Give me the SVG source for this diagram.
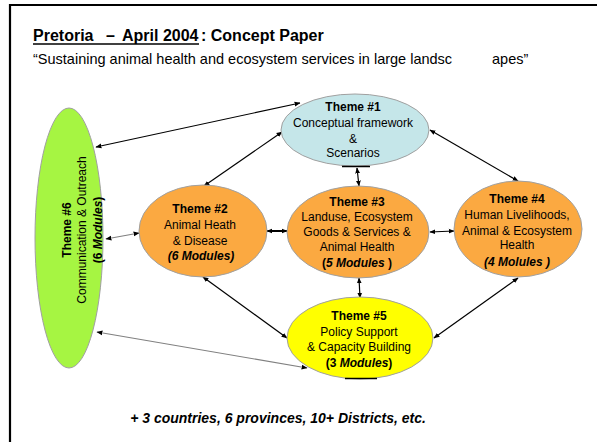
<svg xmlns="http://www.w3.org/2000/svg" width="597" height="442" viewBox="0 0 597 442">
<defs>
<style>
text{font-family:"Liberation Sans",Arial,sans-serif;fill:#000;}
.t{font-size:12px;text-anchor:middle;}
.b{font-weight:bold;}
.i{font-style:italic;font-weight:bold;}
.node{stroke:#a0a0a0;stroke-width:1;}
.c{fill:none;stroke:#000;stroke-width:1.2;marker-start:url(#a);marker-end:url(#a);}
.g{stroke:#808080;}
</style>
<marker id="a" viewBox="0 0 10 10" refX="9" refY="5" markerWidth="6" markerHeight="6" orient="auto-start-reverse" markerUnits="userSpaceOnUse">
<path d="M0,1 L10,5 L0,9 z" fill="#000"/>
</marker>
</defs>
<rect width="597" height="442" fill="#fff"/>
<path d="M10,442 V5 H597" fill="none" stroke="#000" stroke-width="2.2"/>
<text y="41" style="font-size:16px;font-weight:bold"><tspan x="33">Pretoria</tspan><tspan x="106">–</tspan><tspan x="122">April 2004</tspan><tspan x="201">: Concept Paper</tspan></text>
<line x1="33" y1="44" x2="199" y2="44" stroke="#000" stroke-width="1.5"/>
<text y="64" style="font-size:14.5px"><tspan x="33">“Sustaining animal health and ecosystem services in large landsc</tspan><tspan x="492">apes”</tspan></text>
<g id="connectors">
<line class="c" x1="300" y1="103" x2="96" y2="147"/>
<line class="c" x1="282" y1="132" x2="204" y2="186"/>
<line class="c" x1="357" y1="168" x2="359" y2="186"/>
<line class="c" x1="430" y1="130" x2="518" y2="181"/>
<line class="c g" x1="139" y1="233" x2="106" y2="239"/>
<line class="c" x1="267" y1="231" x2="287" y2="231" style="stroke-width:2"/>
<line class="c" x1="430" y1="232" x2="454" y2="231"/>
<line class="c" x1="359" y1="278" x2="360" y2="298"/>
<line class="c" x1="203" y1="277" x2="287" y2="338"/>
<line class="c" x1="518" y1="278" x2="434" y2="338"/>
<line class="c g" x1="97" y1="332" x2="307" y2="368"/>
</g>
<g id="theme6">
<ellipse class="node" cx="69" cy="238" rx="34" ry="130" fill="#a6f542"/>
<g transform="translate(0,230) rotate(-90)">
<text class="t b" x="0" y="71">Theme #6</text>
<text class="t" x="0" y="86">Communication &amp; Outreach</text>
<text class="t" x="0" y="102"><tspan class="b">(6 </tspan><tspan class="i">Modules</tspan><tspan class="b">)</tspan></text>
</g>
</g>
<g id="theme1">
<ellipse class="node" cx="355" cy="130" rx="74" ry="36" fill="#c5e6e9"/>
<line x1="342" y1="166.5" x2="370" y2="166.5" stroke="#000" stroke-width="1.5"/>
<text class="t b" x="353" y="111">Theme #1</text>
<text class="t" x="353" y="127">Conceptual framework</text>
<text class="t" x="353" y="143">&amp;</text>
<text class="t" x="353" y="157">Scenarios</text>
</g>
<g id="theme2">
<ellipse class="node" cx="203" cy="231" rx="64" ry="46" fill="#fba941"/>
<text class="t b" x="200" y="213">Theme #2</text>
<text class="t" x="200" y="229">Animal Heath</text>
<text class="t" x="200" y="245">&amp; Disease</text>
<text class="t i" x="201" y="260">(6 Modules)</text>
</g>
<g id="theme3">
<ellipse class="node" cx="358" cy="232" rx="71" ry="46" fill="#fba941"/>
<text class="t b" x="357" y="206">Theme #3</text>
<text class="t" x="357" y="221">Landuse, Ecosystem</text>
<text class="t" x="357" y="236">Goods &amp; Services &amp;</text>
<text class="t" x="357" y="251">Animal Health</text>
<text class="t b" x="357" y="267">(<tspan class="i">5 Modules</tspan> )</text>
</g>
<g id="theme4">
<ellipse class="node" cx="518" cy="229" rx="64" ry="48" fill="#fba941"/>
<text class="t b" x="517" y="203">Theme #4</text>
<text class="t" x="517" y="219">Human Livelihoods,</text>
<text class="t" x="517" y="235">Animal &amp; Ecosystem</text>
<text class="t" x="517" y="249">Health</text>
<text class="t i" x="517" y="266">(4 Molules )</text>
</g>
<g id="theme5">
<ellipse class="node" cx="360" cy="338" rx="73" ry="41" fill="#ffff00"/>
<line x1="345" y1="378.5" x2="377" y2="378.5" stroke="#000" stroke-width="1.5"/>
<text class="t b" x="359" y="320">Theme #5</text>
<text class="t" x="359" y="336">Policy Support</text>
<text class="t" x="359" y="351">&amp; Capacity Building</text>
<text class="t b" x="359" y="367">(3 <tspan class="i">Modules</tspan>)</text>
</g>
<text class="i" x="278" y="423" style="font-size:14px;text-anchor:middle">+ 3 countries, 6 provinces, 10+ Districts, etc.</text>
</svg>
